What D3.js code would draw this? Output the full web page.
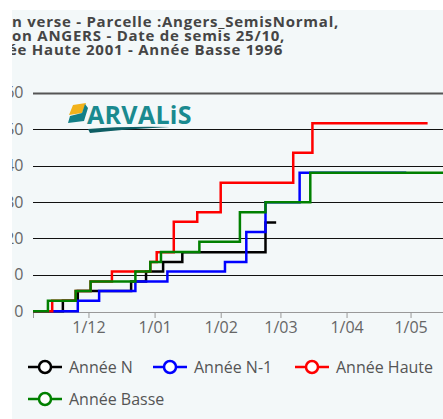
<!DOCTYPE html>
<html><head><meta charset="utf-8">
<script src="https://cdn.jsdelivr.net/npm/d3@7"></script>
<style>
html,body{margin:0;padding:0;background:#fff;}
svg{display:block;font-family:"Open Sans",sans-serif;}
</style></head>
<body>
<svg id="c" width="443" height="419"></svg>
<script>
// ---- data ----
const titleLines = ["n verse - Parcelle :Angers_SemisNormal,", "on ANGERS - Date de semis 25/10,", "ée Haute 2001 - Année Basse 1996"];
const seriesNames = ["Année N", "Année N-1", "Année Haute", "Année Basse"];
const seriesColors = ["#000000", "#0000ff", "#ff0000", "#008000"];
const yTicks = [0, 10, 20, 30, 40, 50, 60];
const xTickDates = ["2022-12-01", "2023-01-01", "2023-02-01", "2023-03-01", "2023-04-01", "2023-05-01"];
const xTickLabels = ["1/12", "1/01", "1/02", "1/03", "1/04", "1/05"];

const anneeNDates = ["2022-11-05","2022-11-19","2022-11-26","2022-12-21","2022-12-28","2023-01-05","2023-01-14","2023-02-22","2023-02-27"];
const anneeNValues = [0, 2.9, 5.6, 8.2, 10.9, 13.5, 16.2, 24.4, 24.4];

const anneeN1Dates = ["2022-11-05","2022-11-26","2022-12-06","2022-12-23","2023-01-07","2023-02-03","2023-02-13","2023-02-22","2023-03-10","2023-04-29"];
const anneeN1Values = [0, 2.9, 5.6, 8.2, 10.9, 13.5, 21.8, 29.9, 38.0, 38.0];

const anneeHauteDates = ["2022-11-05","2022-11-14","2022-11-25","2022-12-02","2022-12-12","2022-12-30","2023-01-02","2023-01-10","2023-01-21","2023-02-01","2023-03-07","2023-03-16","2023-05-09"];
const anneeHauteValues = [0, 2.9, 5.6, 8.2, 10.9, 13.5, 16.2, 24.6, 27.2, 35.3, 43.5, 51.6, 51.6];

const anneeBasseDates = ["2022-11-05","2022-11-12","2022-11-25","2022-12-02","2022-12-23","2022-12-30","2023-01-04","2023-01-22","2023-02-10","2023-02-22","2023-03-15","2023-05-28"];
const anneeBasseValues = [0, 2.9, 5.6, 8.2, 10.9, 13.5, 16.3, 19.1, 27.2, 29.9, 38.0, 38.0];

// ---- drawing ----
const parse = d3.timeParse("%Y-%m-%d");
const svg = d3.select("#c");
const W = 443, H = 419;
const panel = {x: 12, y: 10};

svg.append("rect").attr("width", W).attr("height", H).attr("fill", "#ffffff");
svg.append("defs").append("clipPath").attr("id", "pc")
  .append("rect").attr("x", panel.x).attr("y", panel.y).attr("width", W - panel.x).attr("height", H - panel.y);
const g = svg.append("g").attr("clip-path", "url(#pc)");
g.append("rect").attr("x", panel.x).attr("y", panel.y).attr("width", W - panel.x).attr("height", H - panel.y).attr("fill", "#f3f8f9");

// title
g.append("g").selectAll("text").data(titleLines).join("text")
  .attr("x", (d, i) => i === 2 ? 8 : 12)
  .attr("y", (d, i) => 27 + i * 14)
  .attr("font-size", 15).attr("font-weight", 700).attr("fill", "#454545")
  .attr("letter-spacing", 0.75)
  .text(d => d);

const x = d3.scaleTime().domain([parse("2022-11-05"), parse("2023-05-28")]).range([33, 33 + 204 * 2.133]);
const y = d3.scaleLinear().domain([0, 60]).range([311.3, 92.7]);

// grid
g.append("g").selectAll("line").data(yTicks.filter(t => t > 0)).join("line")
  .attr("x1", 33).attr("x2", W)
  .attr("y1", d => Math.round(y(d)) + 0.5).attr("y2", d => Math.round(y(d)) + 0.5)
  .attr("stroke", d => d === 60 ? "#555" : "#111")
  .attr("stroke-width", d => d === 60 ? 2 : 1);

// y labels
g.append("g").selectAll("text").data(yTicks).join("text")
  .attr("x", 23.5).attr("y", d => y(d) + 5.5)
  .attr("text-anchor", "end").attr("font-size", 16).attr("fill", "#666")
  .text(d => d);

// x axis
const xAxis = d3.axisBottom(x)
  .tickValues(xTickDates.map(parse))
  .tickFormat((d, i) => xTickLabels[i])
  .tickSizeOuter(0).tickSize(6).tickPadding(4);
const ax = g.append("g").attr("transform", "translate(0,312)").call(xAxis);
ax.select(".domain").attr("stroke", "#999").attr("stroke-width", 1);
ax.selectAll(".tick line").attr("stroke", "#999");
ax.selectAll(".tick text").attr("font-size", 16).attr("fill", "#666").attr("font-family", "Open Sans, sans-serif");

// logo
const logo = g.append("g");
logo.append("path").attr("d", "M73,105 L86,103 L82,113 L69,115 Z").attr("fill", "#f2b21b");
logo.append("path").attr("d", "M70,116 L82,113 L85,104 L88,108 L84,121 L68,123 Z").attr("fill", "#127f86");
logo.append("text").attr("x", 87).attr("y", 124).attr("font-size", 25).attr("font-weight", 700)
  .attr("fill", "#1a8a8f").attr("letter-spacing", 0.3).text("ARVALiS");
logo.append("path").attr("d", "M88,129 Q125,126 170,127 Q125,129 90,133 Z").attr("fill", "#0e5e64");

// lines
const allDates = [anneeNDates, anneeN1Dates, anneeHauteDates, anneeBasseDates];
const allValues = [anneeNValues, anneeN1Values, anneeHauteValues, anneeBasseValues];
const line = d3.line().x(d => x(d[0])).y(d => y(d[1])).curve(d3.curveStepAfter);
allDates.forEach((ds, k) => {
  const pts = ds.map((d, i) => [parse(d), allValues[k][i]]);
  g.append("path").datum(pts).attr("d", line)
    .attr("fill", "none").attr("stroke", seriesColors[k]).attr("stroke-width", 2.5)
    .attr("stroke-linejoin", "miter");
});

// legend
const legPos = [[28, 367], [153, 367], [295, 367], [28, 399]];
const leg = g.append("g");
seriesNames.forEach((n, k) => {
  const [lx, ly] = legPos[k];
  const it = leg.append("g").attr("transform", `translate(${lx},${ly})`);
  it.append("line").attr("x1", 0).attr("x2", 34).attr("y1", 0).attr("y2", 0)
    .attr("stroke", seriesColors[k]).attr("stroke-width", 2.5);
  it.append("circle").attr("cx", 17).attr("cy", 0).attr("r", 6)
    .attr("fill", "#fff").attr("stroke", seriesColors[k]).attr("stroke-width", 2.5);
  it.append("text").attr("x", 41).attr("y", 5.5).attr("font-size", 16).attr("fill", "#555").text(n);
});
</script>
</body></html>
